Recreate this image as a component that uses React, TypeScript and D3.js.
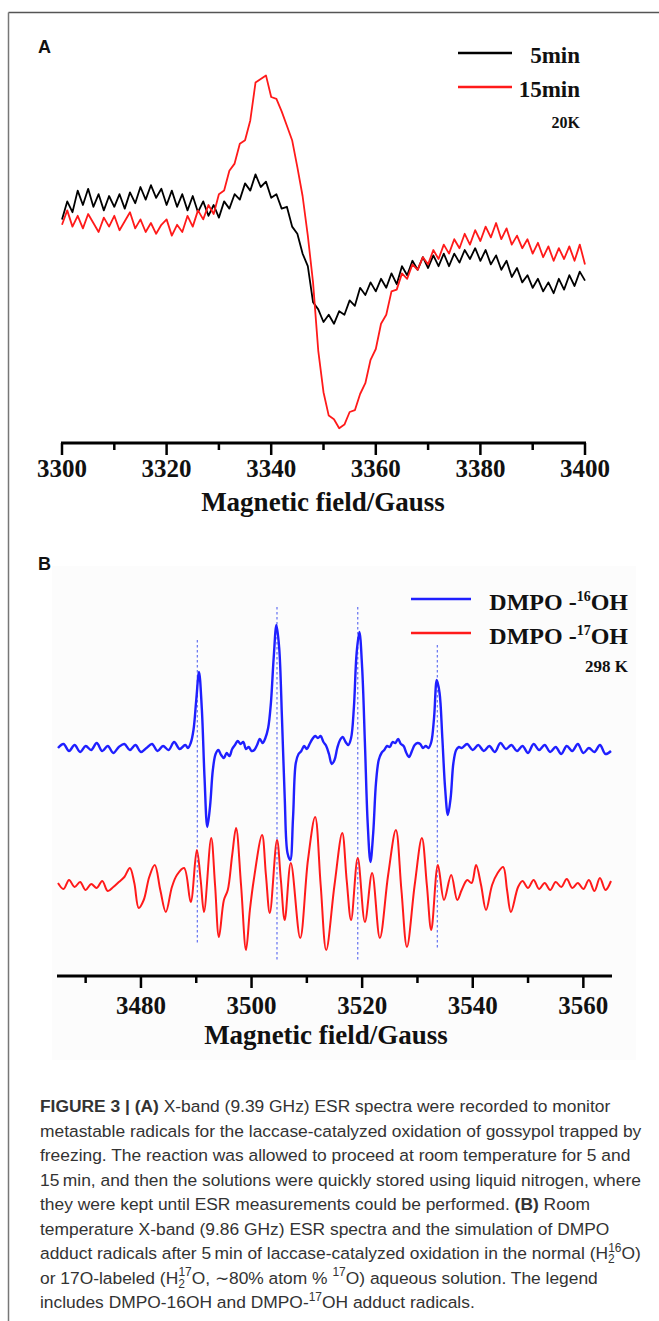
import React from "react";
import * as d3 from "d3";

// ---------- Panel A data (field step 1 G, starting at 3300 G) ----------
const fieldStartA = 3300;
const fieldStepA = 1;
const seriesA5min = [
  17, 27, 21, 33, 25, 34, 24, 31, 22, 30, 24, 31, 23, 32, 26, 35, 28, 36, 29, 34,
  25, 33, 24, 31, 22, 30, 21, 27, 19, 25, 18, 27, 23, 31, 28, 37, 33, 42, 35, 38,
  29, 31, 23, 24, 13, 9, -2, -9, -29, -33, -40, -36, -41, -34, -36, -28, -31, -21, -25, -18,
  -23, -16, -21, -13, -19, -9, -14, -6, -11, -4, -10, -3, -9, -2, -9, -2, -7, 0, -5, 1,
  -6, 0, -8, -3, -11, -6, -15, -10, -18, -14, -21, -16, -23, -18, -24, -16, -22, -14, -20, -12,
  -17,
];
const seriesA15min = [
  14, 22, 13, 19, 12, 20, 15, 10, 18, 13, 19, 11, 16, 21, 12, 17, 10, 15, 9, 14,
  17, 8, 14, 10, 19, 13, 22, 17, 25, 20, 31, 33, 44, 48, 59, 61, 72, 93, 95, 97,
  85, 84, 77, 69, 61, 46, 30, 8, -18, -56, -79, -92, -94, -99, -97, -90, -89, -80, -74, -61,
  -55, -41, -36, -23, -22, -13, -16, -8, -11, -4, -8, 0, -5, 3, -2, 6, 1, 9, 3, 11,
  5, 13, 7, 15, 6, 12, 3, 8, 1, 6, -2, 4, -4, 2, -6, 1, -5, 2, -6, 3,
  -8,
];
const ticksA = [3300, 3320, 3340, 3360, 3380, 3400];
const minorTicksA = [3310, 3330, 3350, 3370, 3390];
const legendA = ["5min", "15min"];
const tempA = "20K";

// ---------- Panel B data [field (G), intensity] ----------
const blueB: [number, number][] = [
  [3465, 0.0], [3466, 0.04], [3467, -0.03], [3468, 0.03], [3469, -0.04], [3470, 0.02],
  [3471, -0.02], [3472, 0.05], [3473, -0.03], [3474, 0.02], [3475, -0.05], [3476, 0.01],
  [3477, 0.04], [3478, -0.02], [3479, 0.03], [3480, -0.04], [3481, 0.0], [3482, 0.04],
  [3483, -0.03], [3484, 0.02], [3485, -0.02], [3486, 0.06], [3487, -0.01], [3488, 0.03],
  [3488.5, 0.0], [3489, 0.05], [3489.5, 0.18], [3490, 0.48], [3490.5, 0.76], [3491, 0.4],
  [3491.5, -0.3], [3492, -0.79], [3492.5, -0.58], [3493, -0.22], [3493.5, -0.06], [3494, -0.02],
  [3494.5, -0.07], [3495, -0.1], [3495.5, -0.05], [3496, -0.08], [3496.5, -0.01], [3497, 0.03],
  [3497.5, 0.07], [3498, 0.04], [3498.5, 0.06], [3499, -0.01], [3499.5, 0.01], [3500, -0.03],
  [3500.5, -0.02], [3501, 0.03], [3501.5, 0.09], [3502, 0.05], [3502.5, 0.1], [3503, 0.2],
  [3503.5, 0.45], [3504, 0.9], [3504.5, 1.23], [3505, 1.0], [3505.5, 0.3], [3506, -0.5],
  [3506.5, -1.05], [3507, -1.12], [3507.5, -0.7], [3508, -0.15], [3508.5, -0.06], [3509, -0.03],
  [3509.5, 0.02], [3510, -0.01], [3510.5, 0.04], [3511, 0.09], [3511.5, 0.12], [3512, 0.1],
  [3512.5, 0.12], [3513, 0.06], [3513.5, 0.02], [3514, -0.06], [3514.5, -0.16], [3515, -0.12],
  [3515.5, 0.0], [3516, 0.08], [3516.5, 0.11], [3517, 0.06], [3517.5, 0.03], [3518, 0.1],
  [3518.5, 0.4], [3519, 0.95], [3519.5, 1.16], [3520, 0.8], [3520.5, 0.05], [3521, -0.75],
  [3521.5, -1.14], [3522, -0.85], [3522.5, -0.35], [3523, -0.12], [3523.5, -0.05], [3524, -0.02],
  [3524.5, 0.02], [3525, 0.01], [3525.5, 0.06], [3526, 0.05], [3526.5, 0.09], [3527, 0.04],
  [3527.5, 0.02], [3528, -0.05], [3528.5, -0.09], [3529, -0.03], [3529.5, 0.03], [3530, 0.05],
  [3530.5, 0.04], [3531, 0.0], [3531.5, 0.02], [3532, 0.0], [3532.5, 0.06], [3533, 0.3],
  [3533.5, 0.68], [3534, 0.55], [3534.5, 0.1], [3535, -0.4], [3535.5, -0.67], [3536, -0.5],
  [3536.5, -0.15], [3537, -0.02], [3537.5, 0.01], [3538, 0.0], [3539, 0.04], [3540, -0.02],
  [3541, 0.03], [3542, -0.03], [3543, 0.02], [3544, -0.04], [3545, 0.05], [3546, -0.01],
  [3547, 0.03], [3548, -0.03], [3549, 0.02], [3550, -0.05], [3551, 0.04], [3552, -0.02],
  [3553, 0.03], [3554, -0.04], [3555, 0.01], [3556, -0.06], [3557, 0.02], [3558, -0.03],
  [3559, 0.04], [3560, -0.05], [3561, 0.0], [3562, -0.04], [3563, 0.03], [3564, -0.06],
  [3565, -0.03],
];
const redOffsetB = -1.37;
const redB: [number, number][] = [
  [3465, 0.02], [3466, -0.04], [3467, 0.05], [3468, -0.02], [3469, 0.03], [3470, -0.05],
  [3471, 0.01], [3472, -0.03], [3473, 0.04], [3474, -0.06], [3475, -0.02], [3476, 0.03],
  [3477, 0.08], [3478, 0.17], [3478.8, 0.02], [3479.6, -0.23], [3480.5, -0.15], [3481.5, 0.08],
  [3482.5, 0.2], [3483.5, -0.05], [3484.5, -0.27], [3485.6, -0.02], [3486.5, 0.1], [3487.8, 0.17],
  [3489, -0.17], [3490.1, 0.35], [3490.8, 0.05], [3491.4, -0.27], [3492.7, 0.47], [3493.4, 0.0],
  [3494.1, -0.52], [3495, -0.15], [3495.7, -0.05], [3496.5, 0.3], [3497.2, 0.57], [3498.1, 0.0],
  [3499, -0.65], [3499.7, -0.25], [3500.4, 0.05], [3501.9, 0.5], [3502.6, 0.1], [3503.3, -0.28],
  [3504.6, 0.45], [3505.3, 0.05], [3506, -0.35], [3507.1, 0.22], [3508.8, -0.53], [3510.2, 0.25],
  [3511.5, 0.68], [3512.5, 0.0], [3513.5, -0.65], [3515, 0.0], [3516.4, 0.52], [3517.2, 0.05],
  [3518, -0.35], [3519.2, 0.27], [3520.5, -0.37], [3521.8, 0.12], [3523.2, -0.53], [3524.7, 0.1],
  [3526.1, 0.55], [3527.1, -0.05], [3528.1, -0.62], [3529.5, 0.0], [3530.8, 0.47], [3531.7, 0.0],
  [3532.5, -0.45], [3533.7, 0.2], [3534.8, -0.15], [3536.1, 0.1], [3537.2, -0.15], [3538, -0.05],
  [3539, 0.05], [3539.8, 0.02], [3540.6, 0.2], [3541.5, 0.0], [3542.4, -0.25], [3543.5, 0.0],
  [3544.5, 0.12], [3545.5, 0.18], [3546.2, -0.05], [3546.9, -0.27], [3548.2, -0.02], [3549, 0.04],
  [3550, -0.03], [3551, 0.05], [3552, -0.04], [3553, 0.02], [3554, -0.05], [3555, 0.03],
  [3556, -0.02], [3557, 0.06], [3558, -0.03], [3559, 0.02], [3560, -0.04], [3561, 0.05],
  [3562, -0.06], [3563, 0.07], [3564, -0.05], [3565, 0.04],
];
// dotted guide lines: field, top intensity, bottom intensity
const guideFieldsB = [3490.2, 3504.6, 3519.2, 3533.6];
const guideTopsB = [1.08, 1.41, 1.41, 1.03];
const guideBottomsB = [-1.95, -2.12, -2.12, -2.0];
const ticksB = [3480, 3500, 3520, 3540, 3560];
const minorTicksB = [3470, 3490, 3510, 3530, 3550];
const tempB = "298 K";

const xTitle = "Magnetic field/Gauss";

const SERIF = "'Liberation Serif', 'Times New Roman', serif";
const SANS = "'Liberation Sans', Arial, sans-serif";

type Seg = { t: string; b?: boolean; sup?: boolean; sub?: boolean };
const captionLines: Seg[][] = [
  [{ t: "FIGURE 3 | (A)", b: true }, { t: " X-band (9.39 GHz) ESR spectra were recorded to monitor" }],
  [{ t: "metastable radicals for the laccase-catalyzed oxidation of gossypol trapped by" }],
  [{ t: "freezing. The reaction was allowed to proceed at room temperature for 5 and" }],
  [{ t: "15\u2009min, and then the solutions were quickly stored using liquid nitrogen, where" }],
  [{ t: "they were kept until ESR measurements could be performed. " }, { t: "(B)", b: true }, { t: " Room" }],
  [{ t: "temperature X-band (9.86 GHz) ESR spectra and the simulation of DMPO" }],
  [
    { t: "adduct radicals after 5\u2009min of laccase-catalyzed oxidation in the normal (H" },
    { t: "2", sub: true }, { t: "16", sup: true }, { t: "O)" },
  ],
  [
    { t: "or 17O-labeled (H" }, { t: "2", sub: true }, { t: "17", sup: true },
    { t: "O, \u223C80% atom % " }, { t: "17", sup: true }, { t: "O) aqueous solution. The legend" },
  ],
  [{ t: "includes DMPO-16OH and DMPO-" }, { t: "17", sup: true }, { t: "OH adduct radicals." }],
];

export default function App() {
  // Panel A scales
  const xA = d3.scaleLinear().domain([3300, 3400]).range([62, 585]);
  const yA = d3.scaleLinear().domain([-105, 105]).range([439, 61]);
  const lineA = d3
    .line<number>()
    .x((_, i) => xA(fieldStartA + i * fieldStepA))
    .y((d) => yA(d));

  // Panel B scales
  const xB = d3.scaleLinear().domain([3465, 3565]).range([58, 611]);
  const yB = d3.scaleLinear().domain([-2.2, 1.5]).range([968, 598]);
  const lineB = d3
    .line<[number, number]>()
    .x((d) => xB(d[0]))
    .y((d) => yB(d[1]))
    .curve(d3.curveCatmullRom.alpha(0.5));
  const lineBRed = d3
    .line<[number, number]>()
    .x((d) => xB(d[0]))
    .y((d) => yB(d[1] + redOffsetB))
    .curve(d3.curveCatmullRom.alpha(0.5));

  const axisYA = 443;
  const axisYB = 976;
  const capFont = 17.4;
  const supFont = 12;

  return (
    <svg
      width={659}
      height={1321}
      viewBox="0 0 659 1321"
      style={{ position: "absolute", left: 0, top: 0, background: "#fff" }}
    >
      <rect x={0} y={0} width={659} height={1321} fill="#fff" />
      {/* frame */}
      <line x1={8.5} y1={12.5} x2={659} y2={12.5} stroke="#555" strokeWidth={1.5} />
      <line x1={8.5} y1={12.5} x2={8.5} y2={1321} stroke="#777" strokeWidth={1.5} />

      {/* ---------------- Panel A ---------------- */}
      <text x={38} y={53} fontFamily={SANS} fontWeight="bold" fontSize={18} fill="#111">A</text>

      <path d={lineA(seriesA5min) || ""} fill="none" stroke="#000" strokeWidth={1.8} strokeLinejoin="round" />
      <path d={lineA(seriesA15min) || ""} fill="none" stroke="#ff1a1a" strokeWidth={1.8} strokeLinejoin="round" />

      {/* legend A */}
      <line x1={458} x2={512} y1={53} y2={53} stroke="#000" strokeWidth={2.5} />
      <text x={580} y={63} textAnchor="end" fontFamily={SERIF} fontWeight="bold" fontSize={23} fill="#111">{legendA[0]}</text>
      <line x1={458} x2={512} y1={87} y2={87} stroke="#ff1a1a" strokeWidth={2.5} />
      <text x={580} y={97} textAnchor="end" fontFamily={SERIF} fontWeight="bold" fontSize={23} fill="#111">{legendA[1]}</text>
      <text x={580} y={128} textAnchor="end" fontFamily={SERIF} fontWeight="bold" fontSize={16} fill="#111">{tempA}</text>

      {/* axis A */}
      <line x1={xA(3300) - 1} x2={xA(3400) + 1} y1={axisYA} y2={axisYA} stroke="#000" strokeWidth={3} />
      {ticksA.map((t) => (
        <g key={"ta" + t}>
          <line x1={xA(t)} x2={xA(t)} y1={axisYA} y2={axisYA + 12} stroke="#000" strokeWidth={2.5} />
          <text x={xA(t)} y={477} textAnchor="middle" fontFamily={SERIF} fontWeight="bold" fontSize={25} fill="#111">{t}</text>
        </g>
      ))}
      {minorTicksA.map((t) => (
        <line key={"ma" + t} x1={xA(t)} x2={xA(t)} y1={axisYA} y2={axisYA + 7} stroke="#000" strokeWidth={2.5} />
      ))}
      <text x={323} y={511} textAnchor="middle" fontFamily={SERIF} fontWeight="bold" fontSize={27} fill="#111">{xTitle}</text>

      {/* ---------------- Panel B ---------------- */}
      <rect x={52} y={566} width={584} height={494} fill="#fcfcfc" />
      <text x={38} y={570} fontFamily={SANS} fontWeight="bold" fontSize={18} fill="#111">B</text>

      {guideFieldsB.map((f, i) => (
        <line
          key={"g" + i}
          x1={xB(f)} x2={xB(f)}
          y1={yB(guideTopsB[i])} y2={yB(guideBottomsB[i])}
          stroke="#6f7cf2" strokeWidth={1.3} strokeDasharray="2.5,2.5"
        />
      ))}
      <path d={lineB(blueB) || ""} fill="none" stroke="#1f1fff" strokeWidth={2.4} strokeLinejoin="round" />
      <path d={lineBRed(redB) || ""} fill="none" stroke="#ff1a1a" strokeWidth={2} strokeLinejoin="round" />

      {/* legend B */}
      <line x1={411} x2={471} y1={599} y2={599} stroke="#1f1fff" strokeWidth={2.5} />
      <text x={628} y={610} textAnchor="end" fontFamily={SERIF} fontWeight="bold" fontSize={24} fill="#111">
        DMPO -<tspan fontSize={14} dy={-9}>16</tspan><tspan dy={9}>OH</tspan>
      </text>
      <line x1={411} x2={471} y1={633} y2={633} stroke="#ff1a1a" strokeWidth={2.5} />
      <text x={628} y={644} textAnchor="end" fontFamily={SERIF} fontWeight="bold" fontSize={24} fill="#111">
        DMPO -<tspan fontSize={14} dy={-9}>17</tspan><tspan dy={9}>OH</tspan>
      </text>
      <text x={628} y={672} textAnchor="end" fontFamily={SERIF} fontWeight="bold" fontSize={17} fill="#111">{tempB}</text>

      {/* axis B */}
      <line x1={57} x2={612} y1={axisYB} y2={axisYB} stroke="#000" strokeWidth={3} />
      {ticksB.map((t) => (
        <g key={"tb" + t}>
          <line x1={xB(t)} x2={xB(t)} y1={axisYB} y2={axisYB + 12} stroke="#000" strokeWidth={2.5} />
          <text x={xB(t)} y={1014} textAnchor="middle" fontFamily={SERIF} fontWeight="bold" fontSize={25} fill="#111">{t}</text>
        </g>
      ))}
      {minorTicksB.map((t) => (
        <line key={"mb" + t} x1={xB(t)} x2={xB(t)} y1={axisYB} y2={axisYB + 7} stroke="#000" strokeWidth={2.5} />
      ))}
      <text x={326} y={1044} textAnchor="middle" fontFamily={SERIF} fontWeight="bold" fontSize={27} fill="#111">{xTitle}</text>

      {/* ---------------- Caption ---------------- */}
      {captionLines.map((segs, li) => (
        <text
          key={"c" + li}
          x={40}
          y={1112 + li * 24.5}
          fontFamily={SANS}
          fontSize={capFont}
          fill="#333"
        >
          {segs.map((s, si) => {
            const prev = segs[si - 1];
            if (s.sub) {
              return <tspan key={si} fontSize={supFont} dy={4}>{s.t}</tspan>;
            }
            if (s.sup) {
              const afterSub = prev && prev.sub;
              return (
                <tspan key={si} fontSize={supFont} dy={afterSub ? -11.5 : -7.5} dx={afterSub ? -6.5 : 0}>
                  {s.t}
                </tspan>
              );
            }
            const dy = prev && prev.sup ? 7.5 : prev && prev.sub ? -4 : 0;
            return (
              <tspan key={si} fontWeight={s.b ? "bold" : "normal"} dy={dy}>
                {s.t}
              </tspan>
            );
          })}
        </text>
      ))}
    </svg>
  );
}
